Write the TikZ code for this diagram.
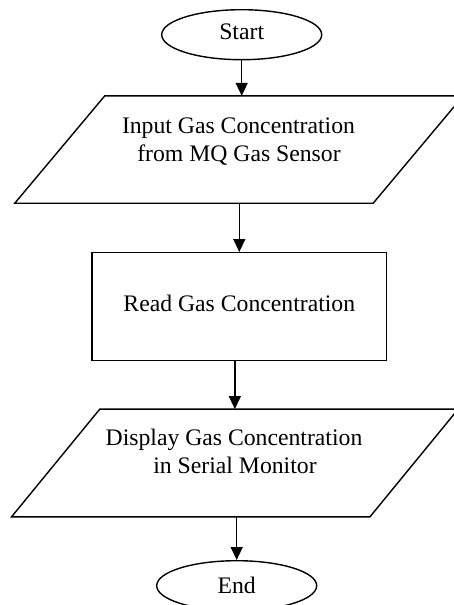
\documentclass[tikz,border=0pt]{standalone}
\usepackage{fontspec}
\setmainfont{Liberation Serif}
\usetikzlibrary{arrows.meta,shapes.geometric,calc}
\begin{document}
\begin{tikzpicture}[x=1pt,y=-1pt,
  line/.style={line width=1.4pt},
  term/.style={draw, line width=1.4pt, ellipse, minimum width=160pt, minimum height=50pt, inner sep=0pt},
  procbox/.style={draw, line width=1.4pt, rectangle, minimum width=294.7pt, minimum height=108pt, inner sep=0pt},
  iobox/.style={rectangle, inner sep=0pt},
  txt/.style={anchor=base, inner sep=0pt},
  arr/.style={line width=1.4pt, -{Triangle[length=13pt,width=12pt]}},
  every node/.style={font=\fontsize{23.7pt}{28pt}\selectfont}
]
\useasboundingbox (0,0) rectangle (454,605);
\clip (0,0) rectangle (454,605);

% Start
\node[term, text depth=6.8pt] (start) at (241.7,34.7) {Start};

% Input parallelogram
\node[iobox, minimum width=448pt, minimum height=107pt] (in) at (239,149.5) {};
\draw[line] (in.south west) -- ($(in.south east)+(-90,0)$) -- (in.north east) -- ($(in.north west)+(90,0)$) -- cycle;
\node[txt] (inl1) at (238.5,133.3) {Input Gas Concentration};
\node[txt] (inl2) at (239,161) {from MQ Gas Sensor};

% Process
\node[procbox, text depth=6pt] (read) at (239.3,306.7) {Read Gas Concentration};

% Output parallelogram
\node[iobox, minimum width=446.3pt, minimum height=107.4pt] (out) at (234.85,463) {};
\draw[line] (out.south west) -- ($(out.south east)+(-88.3,0)$) -- (out.north east) -- ($(out.north west)+(88.3,0)$) -- cycle;
\node[txt] (outl1) at (234,445) {Display Gas Concentration};
\node[txt] (outl2) at (235,473) {in Serial Monitor};

% End
\node[term] (end) at (236.7,585.7) {End};

% Connectors
\draw[arr] (start.south) -- (start.south |- in.north);
\draw[arr] (in.south -| read.north) -- (read.north);
\draw[arr] (read.south -| out.north) -- (out.north);
\draw[arr] (end.north |- out.south) -- (end.north);
\end{tikzpicture}
\end{document}
